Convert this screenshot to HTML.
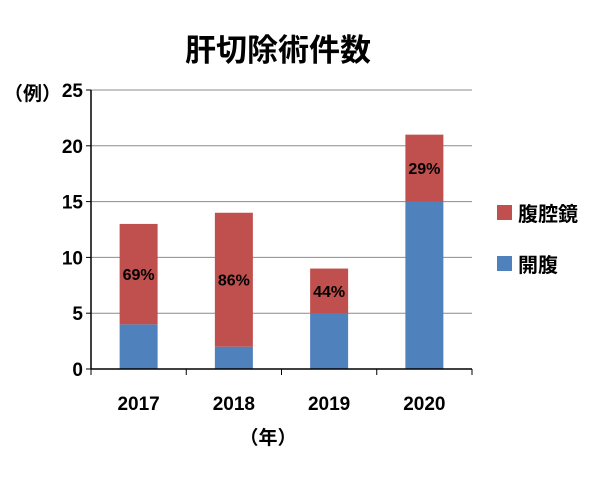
<!DOCTYPE html>
<html><head><meta charset="utf-8"><style>
body{margin:0;background:#fff;}
svg text{font-family:"Liberation Sans","Noto Sans CJK JP",sans-serif;}
</style></head><body>
<svg id="chart" width="605" height="472" viewBox="0 0 605 472" xmlns="http://www.w3.org/2000/svg">
<text x="278" y="61" text-anchor="middle" font-size="31" font-weight="bold" fill="#000">肝切除術件数</text>
<text x="4" y="100" font-size="19" font-weight="bold" fill="#000">（例）</text>
<text x="268" y="444" text-anchor="middle" font-size="19" font-weight="bold" fill="#000">（年）</text>
<g id="grid"></g><g id="bars"></g><g id="axes"></g>
<rect x="497" y="205" width="15" height="15" fill="#C0504D"/>
<text x="518" y="221" font-size="20" font-weight="bold" fill="#000">腹腔鏡</text>
<rect x="497" y="256" width="15" height="15" fill="#4F81BD"/>
<text x="518" y="272" font-size="20" font-weight="bold" fill="#000">開腹</text>
</svg>
<script>
const categories=["2017","2018","2019","2020"];
const openValues=[4,2,5,15];
const lapValues=[9,12,4,6];
const lapPercentLabels=["69%","86%","44%","29%"];
const yTicks=[0,5,10,15,20,25];
const NS="http://www.w3.org/2000/svg";
const x0=91,x1=472,yb=369,yt=90,yMax=25;
const bw=(x1-x0)/categories.length,barW=38;
const y=v=>yb-(v/yMax)*(yb-yt);
const xc=i=>x0+bw*(i+0.5);
function mk(tag,attrs,parent){const e=document.createElementNS(NS,tag);for(const k in attrs)e.setAttribute(k,attrs[k]);parent.appendChild(e);return e;}
const grid=document.getElementById('grid'),bars=document.getElementById('bars'),axes=document.getElementById('axes');
yTicks.forEach(t=>{
  if(t>0){const l=mk('line',{x1:x0,x2:x1,y1:y(t),y2:y(t),stroke:'#8c8c8c','stroke-width':1},grid);
  
  }
  const tk=mk('line',{x1:x0-5,x2:x0,y1:y(t),y2:y(t),stroke:'#000'},axes);
  
  
  const tx=mk('text',{x:x0-8,y:y(t)+7,'text-anchor':'end','font-size':19,'font-weight':'bold'},axes);
  tx.textContent=t;
  
  
});
categories.forEach((c,i)=>{
  const bx=xc(i)-barW/2;
  const o=mk('rect',{x:bx,y:y(openValues[i]),width:barW,height:yb-y(openValues[i]),fill:'#4F81BD'},bars);
  
  
  const tot=openValues[i]+lapValues[i];
  const r=mk('rect',{x:bx,y:y(tot),width:barW,height:y(openValues[i])-y(tot),fill:'#C0504D'},bars);
  
  
  const lt=mk('text',{x:xc(i),y:(y(tot)+y(openValues[i]))/2+6,'text-anchor':'middle','font-size':16,'font-weight':'bold',fill:'#000'},bars);
  lt.textContent=lapPercentLabels[i];
  
  
  const xl=mk('text',{x:xc(i),y:410,'text-anchor':'middle','font-size':19,'font-weight':'bold'},axes);
  xl.textContent=c;
  
  
});
for(let i=0;i<=categories.length;i++){
  const t=mk('line',{x1:x0+bw*i,x2:x0+bw*i,y1:yb,y2:yb+6,stroke:'#000'},axes);
  
  
}
const ya=mk('line',{x1:x0,x2:x0,y1:yt,y2:yb,stroke:'#000','stroke-width':1.5},axes);


const xa=mk('line',{x1:x0,x2:x1,y1:yb,y2:yb,stroke:'#000','stroke-width':1.5},axes);


</script>
</body></html>
